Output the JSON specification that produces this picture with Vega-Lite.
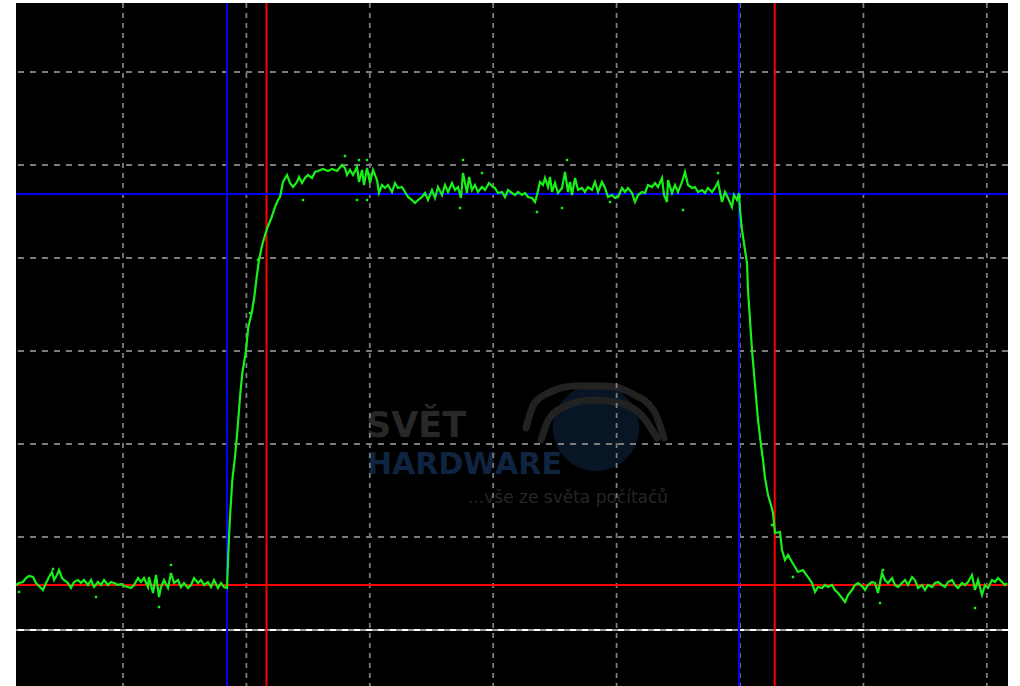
{
  "$schema": "https://vega.github.io/schema/vega-lite/v6.json",
  "width": 992,
  "height": 683,
  "autosize": {"type": "none"},
  "padding": {"left": 16, "top": 3, "right": 12, "bottom": 0},
  "background": "#ffffff",
  "config": {"view": {"fill": "#000000", "stroke": null}, "axis": {"grid": false}},
  "datasets": {
    "one": [{"k": 1}],
    "trace": [
      {"t":16,"v":101},{"t":19,"v":103},{"t":23,"v":104},{"t":26,"v":108},{"t":29,"v":110},{"t":33,"v":109},{"t":36,"v":103},{"t":39,"v":100},{"t":43,"v":96},{"t":46,"v":103},{"t":49,"v":109},{"t":52,"v":114},{"t":54,"v":106},{"t":57,"v":111},{"t":59,"v":116},{"t":62,"v":108},{"t":64,"v":106},{"t":68,"v":103},{"t":71,"v":98},{"t":74,"v":104},{"t":78,"v":106},{"t":81,"v":103},{"t":84,"v":106},{"t":88,"v":101},{"t":91,"v":106},{"t":94,"v":99},{"t":98,"v":104},{"t":101,"v":101},{"t":104,"v":106},{"t":108,"v":101},{"t":111,"v":104},{"t":114,"v":103},{"t":118,"v":101},{"t":121,"v":102},{"t":124,"v":100},{"t":128,"v":99},{"t":131,"v":98},{"t":134,"v":101},{"t":138,"v":108},{"t":141,"v":104},{"t":144,"v":108},{"t":148,"v":99},{"t":149,"v":109},{"t":153,"v":93},{"t":156,"v":111},{"t":159,"v":89},{"t":161,"v":99},{"t":164,"v":106},{"t":168,"v":98},{"t":171,"v":113},{"t":174,"v":103},{"t":178,"v":106},{"t":181,"v":99},{"t":184,"v":103},{"t":188,"v":98},{"t":191,"v":101},{"t":194,"v":108},{"t":198,"v":103},{"t":201,"v":106},{"t":204,"v":101},{"t":208,"v":104},{"t":211,"v":99},{"t":214,"v":106},{"t":218,"v":98},{"t":221,"v":103},{"t":224,"v":99},{"t":227,"v":98},
      {"t":228.3,"v":133},{"t":230,"v":169},{"t":232.3,"v":206},{"t":235,"v":229},{"t":237.7,"v":259},{"t":240,"v":289},{"t":242.3,"v":313},{"t":245.7,"v":333},{"t":248.3,"v":359},{"t":251.7,"v":373},{"t":254.3,"v":389},{"t":256.7,"v":409},{"t":259,"v":426},{"t":261.7,"v":439},{"t":265,"v":451},{"t":267.7,"v":459},{"t":271.7,"v":469},{"t":275,"v":479},{"t":278,"v":486},{"t":280,"v":489},{"t":283,"v":504},{"t":287,"v":511},{"t":290,"v":503},{"t":293,"v":499},{"t":297,"v":504},{"t":299,"v":509},{"t":302,"v":503},{"t":305,"v":508},{"t":308,"v":511},{"t":312,"v":508},{"t":315,"v":514},{"t":318,"v":515},{"t":323,"v":517},{"t":328,"v":515},{"t":332,"v":517},{"t":337,"v":515},{"t":342,"v":521},{"t":345,"v":518},{"t":347,"v":511},{"t":350,"v":516},{"t":353,"v":511},{"t":357,"v":519},{"t":359,"v":504},{"t":362,"v":516},{"t":364,"v":501},{"t":367,"v":518},{"t":370,"v":503},{"t":373,"v":516},{"t":377,"v":506},{"t":379,"v":493},{"t":382,"v":501},{"t":385,"v":498},{"t":388,"v":501},{"t":392,"v":494},{"t":395,"v":503},{"t":398,"v":498},{"t":402,"v":499},{"t":405,"v":494},{"t":408,"v":489},{"t":412,"v":486},{"t":415,"v":483},{"t":418,"v":486},{"t":422,"v":489},{"t":425,"v":493},{"t":428,"v":486},{"t":432,"v":496},{"t":435,"v":488},{"t":438,"v":499},{"t":442,"v":491},{"t":445,"v":501},{"t":448,"v":494},{"t":452,"v":503},{"t":455,"v":496},{"t":458,"v":499},{"t":461,"v":488},{"t":463,"v":513},{"t":467,"v":493},{"t":469,"v":509},{"t":472,"v":496},{"t":475,"v":501},{"t":478,"v":494},{"t":482,"v":499},{"t":485,"v":496},{"t":489,"v":503},{"t":493,"v":499},{"t":495,"v":498},{"t":498,"v":493},{"t":502,"v":494},{"t":505,"v":489},{"t":508,"v":496},{"t":512,"v":493},{"t":515,"v":491},{"t":518,"v":494},{"t":522,"v":491},{"t":525,"v":493},{"t":528,"v":489},{"t":532,"v":488},{"t":535,"v":484},{"t":537,"v":491},{"t":540,"v":504},{"t":543,"v":501},{"t":545,"v":508},{"t":548,"v":499},{"t":550,"v":509},{"t":552,"v":494},{"t":555,"v":503},{"t":558,"v":493},{"t":562,"v":498},{"t":565,"v":514},{"t":568,"v":494},{"t":570,"v":504},{"t":572,"v":491},{"t":575,"v":508},{"t":578,"v":496},{"t":582,"v":498},{"t":585,"v":494},{"t":588,"v":499},{"t":592,"v":496},{"t":595,"v":504},{"t":598,"v":494},{"t":602,"v":504},{"t":605,"v":498},{"t":608,"v":489},{"t":612,"v":491},{"t":615,"v":488},{"t":618,"v":489},{"t":622,"v":498},{"t":625,"v":494},{"t":628,"v":498},{"t":632,"v":493},{"t":635,"v":484},{"t":638,"v":491},{"t":642,"v":494},{"t":645,"v":493},{"t":648,"v":501},{"t":652,"v":499},{"t":655,"v":503},{"t":658,"v":499},{"t":662,"v":508},{"t":664,"v":491},{"t":667,"v":484},{"t":668,"v":506},{"t":672,"v":493},{"t":675,"v":501},{"t":678,"v":494},{"t":682,"v":504},{"t":685,"v":514},{"t":688,"v":501},{"t":692,"v":498},{"t":695,"v":499},{"t":698,"v":494},{"t":702,"v":496},{"t":705,"v":493},{"t":708,"v":498},{"t":712,"v":494},{"t":715,"v":498},{"t":718,"v":504},{"t":722,"v":484},{"t":725,"v":494},{"t":728,"v":488},{"t":732,"v":479},{"t":734,"v":491},{"t":737,"v":486},{"t":739,"v":493},
      {"t":740,"v":476},{"t":742,"v":456},{"t":745,"v":436},{"t":747,"v":423},{"t":748,"v":396},{"t":750,"v":366},{"t":752,"v":336},{"t":755,"v":301},{"t":758,"v":266},{"t":761,"v":241},{"t":763,"v":226},{"t":765,"v":208},{"t":768,"v":191},{"t":771,"v":181},{"t":773,"v":173},{"t":775,"v":153},{"t":780,"v":154},{"t":782,"v":136},{"t":785,"v":126},{"t":788,"v":131},{"t":792,"v":124},{"t":795,"v":119},{"t":798,"v":114},{"t":803,"v":116},{"t":808,"v":109},{"t":812,"v":103},{"t":815,"v":94},{"t":818,"v":99},{"t":822,"v":98},{"t":825,"v":101},{"t":828,"v":99},{"t":832,"v":101},{"t":835,"v":96},{"t":838,"v":93},{"t":842,"v":88},{"t":845,"v":84},{"t":848,"v":91},{"t":852,"v":96},{"t":855,"v":101},{"t":858,"v":103},{"t":862,"v":100},{"t":865,"v":96},{"t":868,"v":101},{"t":872,"v":104},{"t":875,"v":103},{"t":878,"v":93},{"t":882,"v":113},{"t":885,"v":106},{"t":888,"v":103},{"t":892,"v":108},{"t":895,"v":101},{"t":898,"v":99},{"t":902,"v":103},{"t":905,"v":106},{"t":908,"v":101},{"t":912,"v":109},{"t":915,"v":106},{"t":918,"v":98},{"t":922,"v":101},{"t":925,"v":96},{"t":928,"v":101},{"t":932,"v":99},{"t":935,"v":103},{"t":938,"v":104},{"t":942,"v":101},{"t":945,"v":99},{"t":948,"v":104},{"t":952,"v":106},{"t":955,"v":101},{"t":958,"v":98},{"t":962,"v":103},{"t":965,"v":101},{"t":968,"v":104},{"t":972,"v":111},{"t":975,"v":96},{"t":978,"v":106},{"t":982,"v":91},{"t":985,"v":101},{"t":988,"v":98},{"t":992,"v":106},{"t":995,"v":104},{"t":998,"v":108},{"t":1002,"v":104},{"t":1005,"v":101},{"t":1007,"v":103}
    ],
    "dots": [
      {"t":345,"v":530},{"t":359,"v":526},{"t":367,"v":526},{"t":303,"v":486},{"t":357,"v":486},{"t":367,"v":486},{"t":463,"v":526},{"t":482,"v":513},{"t":460,"v":478},{"t":567,"v":526},{"t":562,"v":478},{"t":537,"v":474},{"t":610,"v":484},{"t":683,"v":476},{"t":718,"v":513},{"t":53,"v":117},{"t":171,"v":121},{"t":159,"v":79},{"t":19,"v":94},{"t":96,"v":89},{"t":772,"v":161},{"t":793,"v":109},{"t":880,"v":83},{"t":975,"v":78},{"t":883,"v":116},{"t":250,"v":373},{"t":258,"v":426}
    ],
    "logo": [
      {"arc":"outer","t":526,"v":258},{"arc":"outer","t":534,"v":282},{"arc":"outer","t":550,"v":294},{"arc":"outer","t":575,"v":300},{"arc":"outer","t":605,"v":300},{"arc":"outer","t":633,"v":292},{"arc":"outer","t":654,"v":275},{"arc":"outer","t":664,"v":248},
      {"arc":"inner","t":541,"v":246},{"arc":"inner","t":549,"v":267},{"arc":"inner","t":566,"v":280},{"arc":"inner","t":592,"v":286},{"arc":"inner","t":620,"v":283},{"arc":"inner","t":644,"v":268},{"arc":"inner","t":657,"v":248}
    ]
  },
  "layer": [
    {
      "data": {"name": "one"},
      "mark": {"type": "point", "shape": "circle", "filled": true, "color": "#0d2744", "opacity": 0.55, "size": 7500},
      "encoding": {
        "x": {"datum": 596, "type": "quantitative", "scale": {"domain": [16, 1008], "nice": false, "zero": false}, "axis": null},
        "y": {"datum": 258, "type": "quantitative", "scale": {"domain": [0, 683], "nice": false, "zero": false}, "axis": null}
      }
    },
    {
      "data": {"name": "logo"},
      "mark": {"type": "line", "color": "#222222", "strokeWidth": 7, "interpolate": "monotone", "strokeCap": "round"},
      "encoding": {
        "x": {"field": "t", "type": "quantitative", "scale": {"domain": [16, 1008], "nice": false, "zero": false}, "axis": null},
        "y": {"field": "v", "type": "quantitative", "scale": {"domain": [0, 683], "nice": false, "zero": false}, "axis": null},
        "detail": {"field": "arc"}
      }
    },
    {
      "data": {"name": "one"},
      "mark": {"type": "text", "text": "SVĚT", "font": "DejaVu Sans", "fontWeight": "bold", "fontSize": 35, "color": "#282828", "align": "left", "baseline": "bottom"},
      "encoding": {
        "x": {"datum": 366, "type": "quantitative", "scale": {"domain": [16, 1008], "nice": false, "zero": false}, "axis": null},
        "y": {"datum": 242, "type": "quantitative", "scale": {"domain": [0, 683], "nice": false, "zero": false}, "axis": null}
      }
    },
    {
      "data": {"name": "one"},
      "mark": {"type": "text", "text": "HARDWARE", "font": "DejaVu Sans", "fontWeight": "bold", "fontSize": 30, "color": "#0f2440", "align": "left", "baseline": "top"},
      "encoding": {
        "x": {"datum": 367, "type": "quantitative", "scale": {"domain": [16, 1008], "nice": false, "zero": false}, "axis": null},
        "y": {"datum": 236, "type": "quantitative", "scale": {"domain": [0, 683], "nice": false, "zero": false}, "axis": null}
      }
    },
    {
      "data": {"name": "one"},
      "mark": {"type": "text", "text": "...vše ze světa počítačů", "font": "DejaVu Sans", "fontSize": 17, "color": "#262626", "align": "left", "baseline": "alphabetic"},
      "encoding": {
        "x": {"datum": 468, "type": "quantitative", "scale": {"domain": [16, 1008], "nice": false, "zero": false}, "axis": null},
        "y": {"datum": 183, "type": "quantitative", "scale": {"domain": [0, 683], "nice": false, "zero": false}, "axis": null}
      }
    },
    {
      "data": {"values": [{"t":123},{"t":246.4},{"t":369.8},{"t":493.2},{"t":616.6},{"t":740},{"t":863.4},{"t":986.8}]},
      "mark": {"type": "rule", "color": "#7c7c7c", "strokeWidth": 1.8, "strokeDash": [5, 5]},
      "encoding": {
        "x": {"field": "t", "type": "quantitative", "scale": {"domain": [16, 1008], "nice": false, "zero": false}, "axis": null}
      }
    },
    {
      "data": {"values": [{"v":614},{"v":521},{"v":428},{"v":335},{"v":242},{"v":149}]},
      "mark": {"type": "rule", "color": "#7c7c7c", "strokeWidth": 1.8, "strokeDash": [6, 6]},
      "encoding": {
        "y": {"field": "v", "type": "quantitative", "scale": {"domain": [0, 683], "nice": false, "zero": false}, "axis": null}
      }
    },
    {
      "data": {"values": [{"v":56}]},
      "mark": {"type": "rule", "color": "#9a9a9a", "strokeWidth": 2},
      "encoding": {
        "y": {"field": "v", "type": "quantitative", "scale": {"domain": [0, 683], "nice": false, "zero": false}, "axis": null}
      }
    },
    {
      "data": {"values": [{"v":56}]},
      "mark": {"type": "rule", "color": "#ffffff", "strokeWidth": 2, "strokeDash": [6, 6]},
      "encoding": {
        "y": {"field": "v", "type": "quantitative", "scale": {"domain": [0, 683], "nice": false, "zero": false}, "axis": null}
      }
    },
    {
      "data": {"values": [{"t":227},{"t":739}]},
      "mark": {"type": "rule", "color": "#0000ff", "strokeWidth": 2},
      "encoding": {
        "x": {"field": "t", "type": "quantitative", "scale": {"domain": [16, 1008], "nice": false, "zero": false}, "axis": null}
      }
    },
    {
      "data": {"values": [{"t":266.5},{"t":774.7}]},
      "mark": {"type": "rule", "color": "#ff0000", "strokeWidth": 2},
      "encoding": {
        "x": {"field": "t", "type": "quantitative", "scale": {"domain": [16, 1008], "nice": false, "zero": false}, "axis": null}
      }
    },
    {
      "data": {"values": [{"v":492}]},
      "mark": {"type": "rule", "color": "#0000ff", "strokeWidth": 2},
      "encoding": {
        "y": {"field": "v", "type": "quantitative", "scale": {"domain": [0, 683], "nice": false, "zero": false}, "axis": null}
      }
    },
    {
      "data": {"values": [{"v":101}]},
      "mark": {"type": "rule", "color": "#ff0000", "strokeWidth": 2},
      "encoding": {
        "y": {"field": "v", "type": "quantitative", "scale": {"domain": [0, 683], "nice": false, "zero": false}, "axis": null}
      }
    },
    {
      "data": {"name": "trace"},
      "mark": {"type": "line", "color": "#19f019", "strokeWidth": 2.2},
      "encoding": {
        "x": {"field": "t", "type": "quantitative", "scale": {"domain": [16, 1008], "nice": false, "zero": false}, "axis": null},
        "y": {"field": "v", "type": "quantitative", "scale": {"domain": [0, 683], "nice": false, "zero": false}, "axis": null}
      }
    },
    {
      "data": {"name": "dots"},
      "mark": {"type": "square", "color": "#19f019", "opacity": 1, "size": 6},
      "encoding": {
        "x": {"field": "t", "type": "quantitative", "scale": {"domain": [16, 1008], "nice": false, "zero": false}, "axis": null},
        "y": {"field": "v", "type": "quantitative", "scale": {"domain": [0, 683], "nice": false, "zero": false}, "axis": null}
      }
    }
  ]
}
